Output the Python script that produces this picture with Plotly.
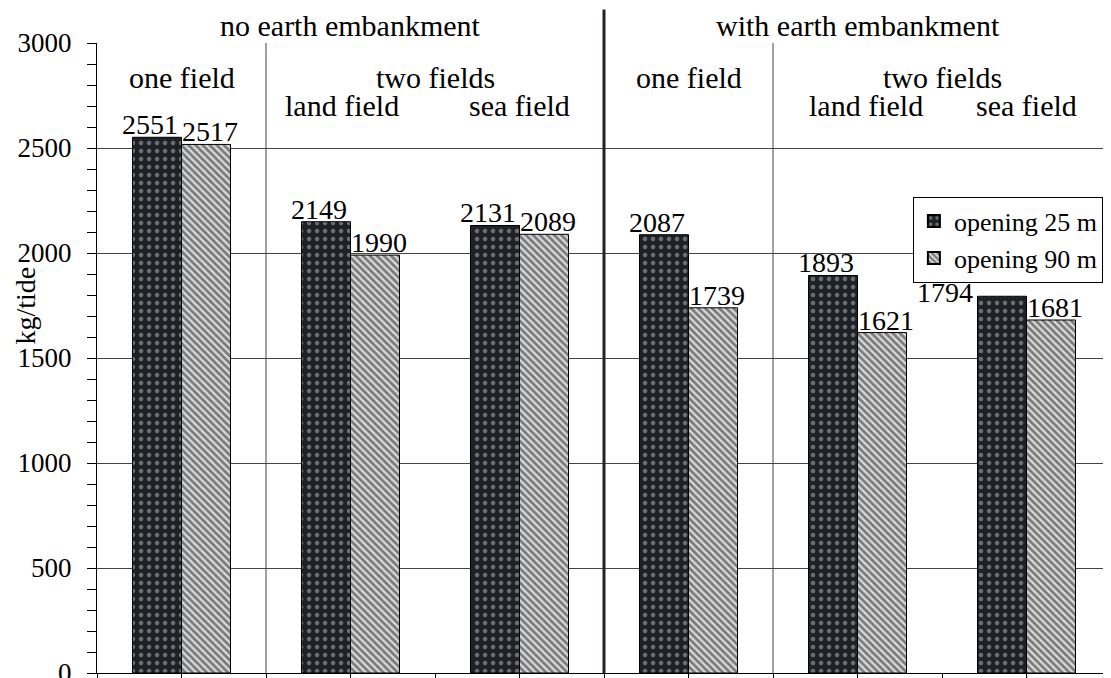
import plotly.graph_objects as go

# ---- data ----
categories = [0, 1, 2, 3, 4, 5]
series_names = ["opening 25 m", "opening 90 m"]
opening_25 = [2551, 2149, 2131, 2087, 1893, 1794]
opening_90 = [2517, 1990, 2089, 1739, 1621, 1681]
group_titles = ["no earth embankment", "with earth embankment"]
sub_titles = ["one field", "two fields", "one field", "two fields"]
field_titles = ["land field", "sea field", "land field", "sea field"]
y_title = "kg/tide"

FONT = "Liberation Serif"
FS = 30        # header texts
FS_VAL = 28    # value labels
FS_TICK = 27
BAR_GAP = 0.42
bw = (1 - BAR_GAP) / 2

fig = go.Figure()
fig.add_trace(go.Bar(
    x=categories, y=opening_25, name=series_names[0],
    marker=dict(color="#1e2226", line=dict(color="black", width=1),
                pattern=dict(shape=".", fgcolor="#6a6f74", bgcolor="#1e2226",
                             size=8, solidity=0.25, fillmode="replace")),
))
fig.add_trace(go.Bar(
    x=categories, y=opening_90, name=series_names[1],
    marker=dict(color="#8c8c8c", line=dict(color="black", width=1),
                pattern=dict(shape="\\", fgcolor="#dcdcdc", bgcolor="#7a7a7a",
                             size=5, solidity=0.45, fillmode="replace")),
))

val_font = dict(family=FONT, size=FS_VAL, color="black")
# value labels (left bar labels lean left, right bar labels lean right)
for i, (c, v) in enumerate(zip(categories, opening_25)):
    if i == len(categories) - 1:
        # last dark bar: label placed to the left of the bar
        fig.add_annotation(x=c - bw, y=v, text=str(v), xanchor="right",
                           yanchor="middle", showarrow=False, xshift=-2, yshift=4,
                           font=val_font)
    else:
        fig.add_annotation(x=c - bw / 2, y=v, text=str(v), xanchor="center",
                           yanchor="bottom", showarrow=False, xshift=-7, yshift=-5,
                           font=val_font)
for c, v in zip(categories, opening_90):
    fig.add_annotation(x=c + bw / 2, y=v, text=str(v), xanchor="center",
                       yanchor="bottom", showarrow=False, xshift=4, yshift=-5,
                       font=val_font)

# vertical separators
for xv in [0.5, 3.5]:
    fig.add_shape(type="line", xref="x", yref="paper", x0=xv, x1=xv, y0=0, y1=1,
                  line=dict(color="#444444", width=1), layer="below")
fig.add_shape(type="line", xref="x", yref="paper", x0=2.5, x1=2.5, y0=0, y1=1.053,
              line=dict(color="#2a2020", width=3))

# header texts
ann_font = dict(family=FONT, size=FS, color="black")
fig.add_annotation(x=1.0, y=1.0, xref="x", yref="paper", text=group_titles[0],
                   yanchor="bottom", showarrow=False, font=ann_font, yshift=-1)
fig.add_annotation(x=4.0, y=1.0, xref="x", yref="paper", text=group_titles[1],
                   yanchor="bottom", showarrow=False, font=ann_font, yshift=-1)
for xv, t in zip([0, 1.5, 3, 4.5], sub_titles):
    fig.add_annotation(x=xv, y=3000, text=t, yanchor="top", showarrow=False,
                       font=ann_font, yshift=-16)
for xv, t in zip([0.95, 2.0, 4.05, 5.0], field_titles):
    fig.add_annotation(x=xv, y=3000, text=t, yanchor="top", showarrow=False,
                       font=ann_font, yshift=-44)

# y axis title (sits between the 2000 and 1500 tick labels, as in the reference)
fig.add_annotation(x=-0.5, y=1750, text=y_title, textangle=-90, showarrow=False,
                   xanchor="center", yanchor="middle", xshift=-72,
                   font=dict(family=FONT, size=FS_VAL, color="black"))

# the page body adds an 8px offset; the figure is sized so that the visible
# window (1111x678) shows the plot area where the reference has it
fig.update_layout(
    width=1103, height=670,
    margin=dict(l=89, r=0, t=35, b=5, autoexpand=False),
    paper_bgcolor="white", plot_bgcolor="white",
    barmode="group", bargap=BAR_GAP, bargroupgap=0,
    font=dict(family=FONT, size=FS, color="black"),
    legend=dict(x=0.992, xanchor="right", y=0.756, yanchor="top",
                bordercolor="black", borderwidth=1, bgcolor="white",
                font=dict(family=FONT, size=26, color="black"),
                itemsizing="constant", tracegroupgap=0, itemwidth=30),
    xaxis=dict(range=[-0.5, 5.5], tickvals=[i * 0.5 - 0.5 for i in range(13)],
               showticklabels=False, ticks="outside", ticklen=5, tickcolor="black",
               showline=True, linecolor="black", linewidth=1, showgrid=False,
               zeroline=False, fixedrange=True, automargin=False),
    yaxis=dict(range=[0, 3000], dtick=500, ticks="outside", ticklen=9,
               tickcolor="black", showline=True, linecolor="black", linewidth=1,
               showgrid=True, gridcolor="#444444", gridwidth=1, zeroline=False,
               ticklabelstandoff=10, ticklabeloverflow="allow", automargin=False,
               tickfont=dict(family=FONT, size=FS_TICK, color="black"),
               minor=dict(dtick=100, ticks="outside", ticklen=9, tickcolor="black",
                          showgrid=False)),
)

fig.write_html("out.html")
